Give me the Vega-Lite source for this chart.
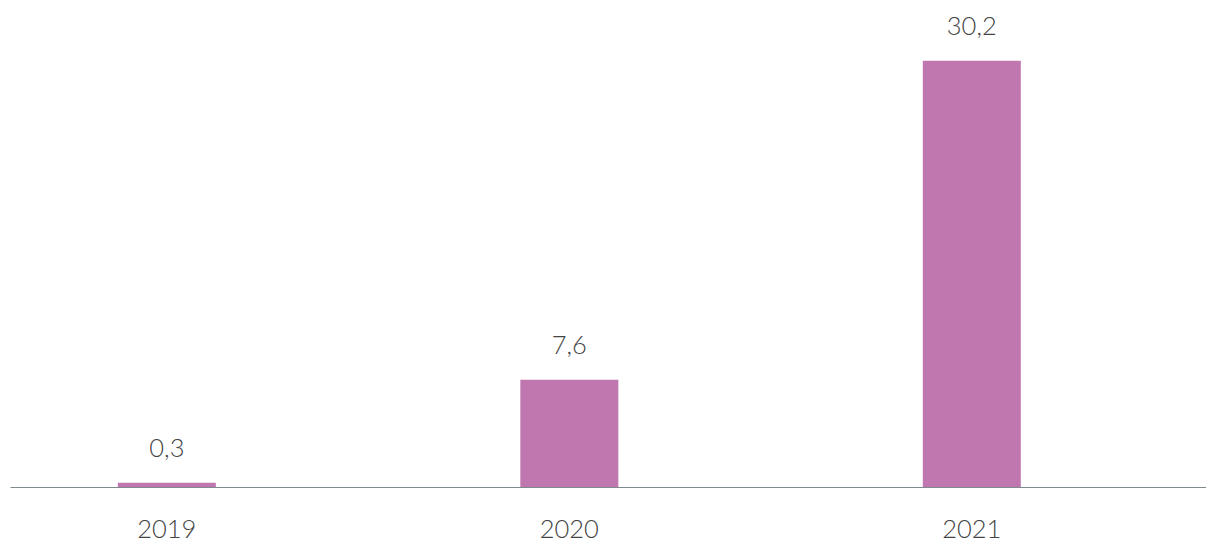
{
  "$schema": "https://vega.github.io/schema/vega-lite/v6.json",
  "width": 1196,
  "height": 487,
  "padding": {"left": 10, "top": 0, "right": 0, "bottom": 54},
  "autosize": {"type": "none"},
  "background": "white",
  "config": {
    "view": {"stroke": null},
    "locale": {"number": {"decimal": ",", "thousands": " ", "grouping": [3], "currency": ["", ""]}}
  },
  "data": {"values": [
    {"year": "2019", "value": 0.3},
    {"year": "2020", "value": 7.6},
    {"year": "2021", "value": 30.2}
  ]},
  "encoding": {
    "x": {
      "field": "year", "type": "nominal", "sort": null,
      "scale": {"paddingInner": 0.7565, "paddingOuter": 0.364, "align": 0.368},
      "axis": {
        "title": null, "labelAngle": 0, "ticks": false, "domainColor": "#808a8e", "domainWidth": 1.2,
        "labelFont": "Lato", "labelFontWeight": 300, "labelFontSize": 25.5, "labelColor": "#444444",
        "labelPadding": 50, "labelBaseline": "alphabetic"
      }
    },
    "y": {
      "field": "value", "type": "quantitative",
      "scale": {"domain": [0, 34.5], "nice": false},
      "axis": null
    }
  },
  "layer": [
    {"mark": {"type": "bar", "color": "#c077b0"}},
    {
      "mark": {"type": "text", "baseline": "alphabetic", "dy": -26, "font": "Lato", "fontWeight": 300, "fontSize": 25.5, "color": "#444444"},
      "encoding": {"text": {"field": "value", "type": "quantitative", "format": ".1f"}}
    }
  ]
}
